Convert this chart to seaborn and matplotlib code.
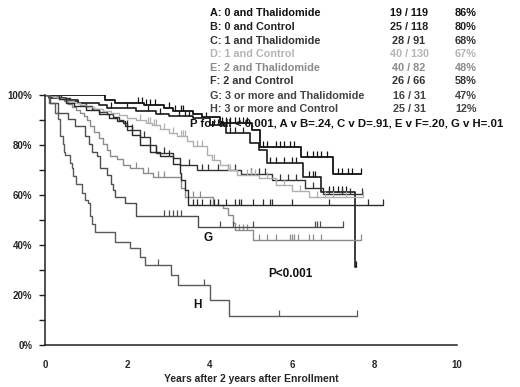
import numpy as np
import pandas as pd
import matplotlib
matplotlib.use("Agg")
import matplotlib.pyplot as plt
import seaborn as sns

# ---------------- data ----------------
groups = ["A", "B", "C", "D", "E", "F", "G", "H"]
legend_labels = ["A: 0 and Thalidomide", "B: 0 and Control", "C: 1 and Thalidomide",
                 "D: 1 and Control", "E: 2 and Thalidomide", "F: 2 and Control",
                 "G: 3 or more and Thalidomide", "H: 3 or more and Control"]
legend_counts = ["19 / 119", "25 / 118", "28 / 91", "40 / 130", "40 / 82", "26 / 66", "16 / 31", "25 / 31"]
legend_pct = ["86%", "80%", "68%", "67%", "48%", "58%", "47%", "12%"]

# event times (years) and survival (%) just after each event
A_t = [1.45, 1.7, 2.4, 2.9, 3.1, 3.6, 3.8, 4.25, 5.02, 5.21, 6.22, 6.99]
A_s = [98, 97, 96, 95, 93.8, 92.5, 91.3, 88.7, 86, 79.3, 75.3, 68.3]
A_end = 7.68
A_cens = [2.25, 2.35, 2.45, 2.55, 2.67, 3.0, 3.15, 3.3, 3.35, 4.3, 4.4, 4.5, 4.6, 4.7, 4.8, 4.9,
          5.3, 5.4, 5.6, 5.7, 5.8, 5.95, 6.05, 6.35, 6.5, 6.6, 6.7, 6.85, 7.1, 7.2, 7.35, 7.45, 7.68]

B_t = [0.1, 0.5, 0.8, 1.3, 1.5, 2.2, 2.7, 3.0, 3.6, 4.0, 4.4, 4.97, 5.2, 5.38, 6.27, 6.71, 7.52]
B_s = [99, 98, 97, 96, 94.8, 93.5, 92.5, 91.8, 90.8, 88, 84.8, 80.8, 78, 72.7, 67.3, 61.3, 31.3]
B_end = 7.56
B_cens = [1.6, 2.0, 2.5, 2.8, 3.25, 3.4, 3.5, 3.9, 4.1, 4.2, 4.5, 4.6, 4.8, 5.45, 5.6, 5.8, 6.0, 6.1,
          6.4, 6.5, 6.55, 6.9, 7.0, 7.1, 7.2, 7.3, 7.56]

C_t = [0.4, 0.6, 0.8, 1.0, 1.15, 1.3, 1.5, 1.65, 1.8, 1.9, 2.0, 2.3, 2.55, 2.7, 3.11, 3.27, 3.68,
       4.75, 5.5, 6.3, 6.75]
C_s = [98.9, 97.8, 96.7, 95.6, 94.5, 93.4, 92.3, 91.2, 90.1, 89, 86, 83.3, 80, 76.7, 74.7, 72, 70,
       68.3, 66, 63, 60.5]
C_end = 7.7
C_cens = [2.1, 2.4, 2.9, 3.5, 3.8, 3.95, 4.2, 4.45, 4.6, 5.0, 5.2, 5.35, 5.7, 5.9, 6.1, 6.5, 6.9, 7.2, 7.4, 7.7]

D_t = [0.2, 0.35, 0.5, 0.7, 0.85, 1.0, 1.2, 1.4, 1.6, 1.8, 2.0, 2.2, 2.45, 2.6, 2.8, 3.0, 3.2,
       3.45, 3.6, 3.92, 4.05, 4.24, 4.45, 4.65, 5.2, 5.6, 6.0, 6.4]
D_s = [99.2, 98.4, 97.6, 96.8, 96, 95.2, 94.4, 93.6, 92.8, 92, 91, 90, 89, 88, 86.5, 85, 83.5,
       81.5, 79.5, 76, 74, 72, 70, 68, 67, 64, 61.5, 59.3]
D_end = 7.71
D_cens = [2.3, 2.5, 2.55, 2.65, 2.7, 2.9, 3.1, 3.3, 3.35, 3.4, 3.7, 3.8, 4.1, 4.5, 4.9, 5.0, 5.1,
          5.4, 5.8, 6.2, 6.6, 6.8, 7.0, 7.3, 7.71]

E_t = [0.3, 0.45, 0.55, 0.65, 0.75, 0.85, 0.95, 1.02, 1.1, 1.2, 1.3, 1.4, 1.5, 1.58, 1.75, 1.9,
       2.06, 2.38, 2.63, 3.3, 3.4, 4.08, 4.33, 4.45, 4.57, 4.61, 5.05]
E_s = [98.8, 97.6, 96.3, 95.1, 93.9, 92.7, 91.5, 90.2, 87.8, 85.4, 82.9, 80.5, 78, 75.6, 74.4, 72,
       70.7, 68.7, 67.3, 63, 59.3, 56, 54.7, 52, 48.7, 46, 42]
E_end = 7.68
E_cens = [2.2, 2.5, 2.75, 2.9, 3.6, 3.75, 4.2, 4.7, 4.8, 4.9, 5.2, 5.4, 5.6, 5.95, 6.0, 6.05, 6.15,
          6.4, 6.5, 6.7, 7.68]

F_t = [0.35, 0.5, 0.7, 1.0, 1.3, 1.55, 1.75, 1.94, 2.1, 2.3, 2.55, 2.79, 3.11, 3.27, 3.31, 3.4, 3.48]
F_s = [98.5, 97, 95.5, 94, 92.5, 91, 89.5, 87.6, 84, 80, 77.3, 75.5, 72.5, 69, 66, 62, 56]
F_end = 8.2
F_cens = [2.0, 2.7, 3.0, 3.6, 3.7, 3.8, 4.0, 4.1, 4.2, 4.4, 4.6, 4.7, 4.75, 5.05, 5.3, 5.45, 5.5,
          6.0, 6.9, 7.85, 8.2]

G_t = [0.12, 0.32, 0.55, 0.73, 0.97, 1.08, 1.13, 1.25, 1.33, 1.5, 1.6, 1.65, 1.7, 1.94, 2.22, 3.72]
G_s = [96.8, 92.8, 90.3, 87.5, 83.5, 80.6, 77.4, 75.5, 71.0, 68, 64.5, 62, 59.3, 56.8, 51.6, 47.3]
G_end = 7.23
G_cens = [2.9, 3.0, 3.1, 3.2, 3.3, 4.24, 4.57, 5.05, 6.55, 6.6, 6.67, 7.23]

H_t = [0.1, 0.24, 0.32, 0.36, 0.44, 0.47, 0.49, 0.61, 0.65, 0.69, 0.75, 0.89, 0.98, 1.05, 1.09,
       1.15, 1.21, 1.7, 2.06, 2.3, 2.42, 3.07, 3.23, 4.0, 4.47]
H_s = [96.8, 92.8, 90.3, 83.5, 80.6, 77.4, 76, 72.8, 71, 67.7, 64.5, 60.8, 58.1, 56.8, 51.6,
       48.4, 45.3, 41.3, 38.7, 35.3, 32, 28, 24, 18, 11.7]
H_end = 7.57
H_cens = [2.75, 3.85, 5.68, 7.57]

curves = {
    "A": (A_t, A_s, A_end, A_cens), "B": (B_t, B_s, B_end, B_cens),
    "C": (C_t, C_s, C_end, C_cens), "D": (D_t, D_s, D_end, D_cens),
    "E": (E_t, E_s, E_end, E_cens), "F": (F_t, F_s, F_end, F_cens),
    "G": (G_t, G_s, G_end, G_cens), "H": (H_t, H_s, H_end, H_cens),
}

# ---------------- styles ----------------
line_colors = {"A": "#111111", "B": "#1a1a1a", "C": "#333333", "D": "#b0b0b0",
               "E": "#8c8c8c", "F": "#2a2a2a", "G": "#4d4d4d", "H": "#5a5a5a"}
text_colors = {"A": "#111111", "B": "#222222", "C": "#333333", "D": "#b5b5b5",
               "E": "#8a8a8a", "F": "#333333", "G": "#444444", "H": "#444444"}
line_widths = {"A": 1.3, "B": 1.2, "C": 1.0, "D": 1.0, "E": 1.0, "F": 1.0, "G": 1.0, "H": 1.0}

sns.set_theme(style="white")
plt.rcParams["font.family"] = ["Liberation Sans", "DejaVu Sans"]
plt.rcParams["font.weight"] = "bold"

fig = plt.figure(figsize=(5.2, 3.87), dpi=100)
ax = fig.add_axes([45 / 520, 1 - 345 / 387, 412 / 520, 250 / 387])

for g in groups:
    t, s, end, cens = curves[g]
    xs = [0.0] + list(t) + [end]
    ys = [100.0] + list(s) + [s[-1]]
    df = pd.DataFrame({"years": xs, "surv": ys})
    sns.lineplot(data=df, x="years", y="surv", drawstyle="steps-post", estimator=None,
                 sort=False, color=line_colors[g], linewidth=line_widths[g], ax=ax)
    ct = np.asarray(cens, dtype=float)
    idx = np.searchsorted(np.asarray(t), ct, side="right")
    cy = np.array([100.0] + list(s))[idx]
    ax.plot(ct, cy, linestyle="none", marker=2, markersize=4.5, markeredgewidth=0.9,
            color=line_colors[g])

ax.set_xlim(0, 10)
ax.set_ylim(0, 100)
ax.set_xlabel("Years after 2 years after Enrollment", fontsize=7.5, fontweight="bold", labelpad=3)
ax.set_ylabel("")
ax.set_xticks(range(0, 11))
ax.set_xticklabels([str(i) if i % 2 == 0 else "" for i in range(0, 11)])
ax.set_yticks(range(0, 101, 20))
ax.set_yticklabels([f"{v}%" for v in range(0, 101, 20)])
ax.set_yticks(range(10, 100, 20), minor=True)
ax.tick_params(axis="x", direction="in", length=4, width=1.0, labelsize=7, pad=11, color="#222222")
ax.tick_params(axis="y", which="both", direction="out", length=4, width=1.0, labelsize=7, pad=5,
               color="#222222", left=True)
for lab in ax.get_xticklabels() + ax.get_yticklabels():
    lab.set_fontweight("bold")
ax.spines["top"].set_visible(False)
ax.spines["right"].set_visible(False)
for sp in ("left", "bottom"):
    ax.spines[sp].set_color("#222222")
    ax.spines[sp].set_linewidth(1.1)
ax.grid(False)

# legend block (text)
row_y = [13, 27, 41, 54, 68, 81, 96, 109]
for g, lab, cnt, pct, yy in zip(groups, legend_labels, legend_counts, legend_pct, row_y):
    fy = 1 - yy / 387
    c = text_colors[g]
    fig.text(210 / 520, fy, lab, fontsize=7.8, fontweight="bold", color=c, va="center", ha="left")
    fig.text(409 / 520, fy, cnt, fontsize=7.8, fontweight="bold", color=c, va="center", ha="center")
    fig.text(455 / 520, fy, pct, fontsize=7.8, fontweight="bold", color=c, va="center", ha="left")

fig.text(190 / 520, 1 - 123 / 387, "P for all < 0.001, A v B=.24, C v D=.91, E v F=.20, G v H=.01",
         fontsize=8.2, fontweight="bold", color="#111111", va="center", ha="left")

# annotations inside the plot
fig.text(208 / 520, 1 - 238 / 387, "G", fontsize=8.5, fontweight="bold", color="#111111",
         va="center", ha="center")
fig.text(197 / 520, 1 - 305 / 387, "H", fontsize=8.5, fontweight="bold", color="#111111",
         va="center", ha="center")
fig.text(290 / 520, 1 - 274 / 387, "P<0.001", fontsize=8.5, fontweight="bold", color="#111111",
         va="center", ha="center")

fig.savefig("out.png", dpi=100)
